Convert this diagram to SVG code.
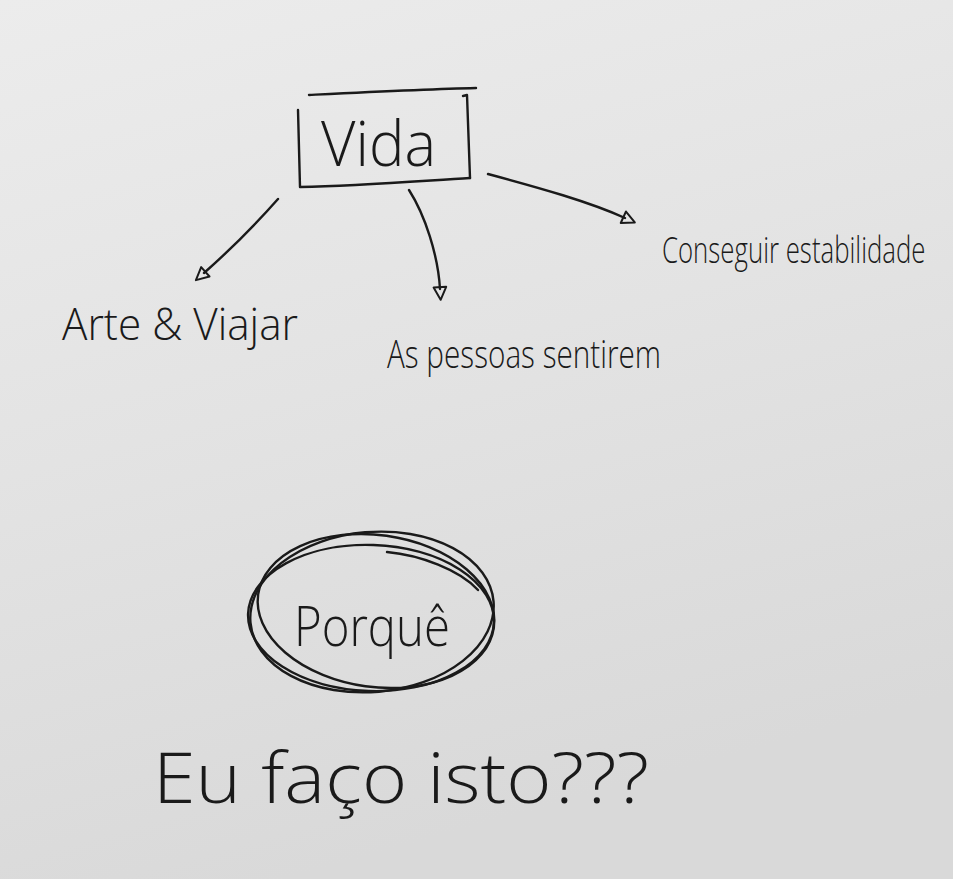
<svg xmlns="http://www.w3.org/2000/svg" width="953" height="879" viewBox="0 0 953 879">
  <defs>
    <linearGradient id="paper" x1="0" y1="0" x2="0.3" y2="1">
      <stop offset="0" stop-color="#ececec"/>
      <stop offset="0.5" stop-color="#e3e3e3"/>
      <stop offset="1" stop-color="#d9d9d9"/>
    </linearGradient>
    <marker id="tri" viewBox="-2 -9 20 18" markerWidth="18" markerHeight="18" refX="2" refY="0" orient="auto" markerUnits="userSpaceOnUse">
      <path d="M0,-7 L14,0 L0,7 Z" fill="none" stroke="#1a1a1a" stroke-width="2.2" stroke-linejoin="round"/>
    </marker>
    <style>
      .ink { fill: none; stroke: #1a1a1a; stroke-width: 2.4; stroke-linecap: round; stroke-linejoin: round; }
      .hand { font-family: "Open Sans", "Liberation Sans", sans-serif; font-weight: 300; fill: #1a1a1a; }
    </style>
  </defs>

  <rect x="0" y="0" width="953" height="879" fill="url(#paper)"/>

  <g id="vida">
    <path class="ink" d="M309,95 C370,92 430,89 476,88"/>
    <path class="ink" d="M298,110 L300,187 C360,186 420,181 470,178"/>
    <path class="ink" d="M463,96 L467,95 L470,178"/>
    <text class="hand" x="321" y="166" font-size="62" textLength="115" lengthAdjust="spacingAndGlyphs">Vida</text>
  </g>

  <g id="connectors">
    <path class="ink" d="M278,199 C255,225 230,250 204,273" marker-end="url(#tri)"/>
    <path class="ink" d="M409,190 C425,215 438,255 440,289" marker-end="url(#tri)"/>
    <path class="ink" d="M488,174 C540,188 590,202 625,218" marker-end="url(#tri)"/>
  </g>

  <g id="arte">
    <text class="hand" x="62" y="340" font-size="44" textLength="236" lengthAdjust="spacingAndGlyphs">Arte &amp; Viajar</text>
  </g>

  <g id="pessoas">
    <text class="hand" x="387" y="368" font-size="38" textLength="274" lengthAdjust="spacingAndGlyphs">As pessoas sentirem</text>
  </g>

  <g id="estabilidade">
    <text class="hand" transform="translate(662 263) scale(0.72 1)" x="0" y="0" font-size="36" textLength="366" lengthAdjust="spacingAndGlyphs">Conseguir estabilidade</text>
  </g>

  <g id="porque">
    <ellipse class="ink" cx="372" cy="612" rx="122" ry="80" transform="rotate(-5 372 612)"/>
    <ellipse class="ink" cx="376" cy="611" rx="119" ry="76" transform="rotate(8 376 611)"/>
    <ellipse class="ink" cx="371" cy="618" rx="123" ry="73" transform="rotate(2 371 618)"/>
    <path class="ink" d="M387,552 C420,555 460,570 478,590"/>
    <text class="hand" x="294" y="646" font-size="56" textLength="156" lengthAdjust="spacingAndGlyphs">Porquê</text>
  </g>

  <g id="pergunta">
    <text class="hand" x="153" y="803" font-size="70" textLength="496" lengthAdjust="spacingAndGlyphs">Eu faço isto???</text>
  </g>
</svg>
